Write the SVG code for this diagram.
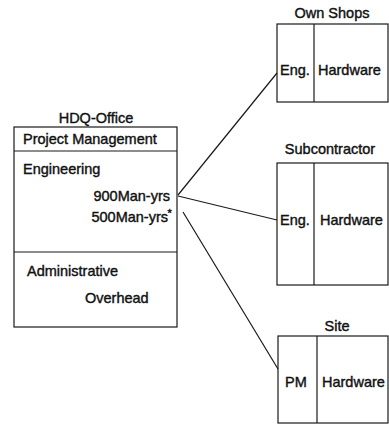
<svg xmlns="http://www.w3.org/2000/svg" width="389" height="425" viewBox="0 0 389 425">
<style>
.box{fill:none;stroke:#1a1a1a;stroke-width:1.2}
.ln{fill:none;stroke:#1a1a1a;stroke-width:1.2}
text{font-family:"Liberation Sans",Arial,sans-serif;font-size:14.5px;fill:#111;stroke:#111;stroke-width:0.4}
.t{text-anchor:middle}
.e{text-anchor:end}
</style>
<rect width="389" height="425" fill="#fff"/>
<g id="connectors">
<line class="ln" x1="178" y1="195" x2="277" y2="73"/>
<line class="ln" x1="178" y1="196" x2="277" y2="220"/>
<line class="ln" x1="183" y1="212" x2="278" y2="369"/>
</g>
<g id="hdq">
<text class="t" x="96" y="122.5">HDQ-Office</text>
<rect class="box" x="14" y="127" width="163" height="200"/>
<line class="ln" x1="14" y1="151" x2="177" y2="151"/>
<line class="ln" x1="14" y1="252" x2="177" y2="252"/>
<text x="23" y="144">Project Management</text>
<text x="23" y="174">Engineering</text>
<text class="e" x="170" y="201">900Man-yrs</text>
<text class="e" x="168" y="221.5">500Man-yrs</text>
<text x="167.5" y="217" style="font-size:11px">*</text>
<text x="27" y="276">Administrative</text>
<text x="85" y="302.5">Overhead</text>
</g>
<g id="ownshops">
<text class="t" x="332" y="18">Own Shops</text>
<rect class="box" x="277" y="24" width="111" height="78"/>
<line class="ln" x1="314" y1="24" x2="314" y2="102"/>
<text x="280" y="75">Eng.</text>
<text x="318" y="75">Hardware</text>
</g>
<g id="subcontractor">
<text class="t" x="330" y="154">Subcontractor</text>
<rect class="box" x="277" y="163" width="111" height="122"/>
<line class="ln" x1="314" y1="163" x2="314" y2="285"/>
<text x="280" y="225">Eng.</text>
<text x="320" y="225">Hardware</text>
</g>
<g id="site">
<text class="t" x="337" y="331">Site</text>
<rect class="box" x="278" y="336" width="110" height="87"/>
<line class="ln" x1="317" y1="336" x2="317" y2="423"/>
<text x="285" y="387">PM</text>
<text x="322" y="387">Hardware</text>
</g>
</svg>
